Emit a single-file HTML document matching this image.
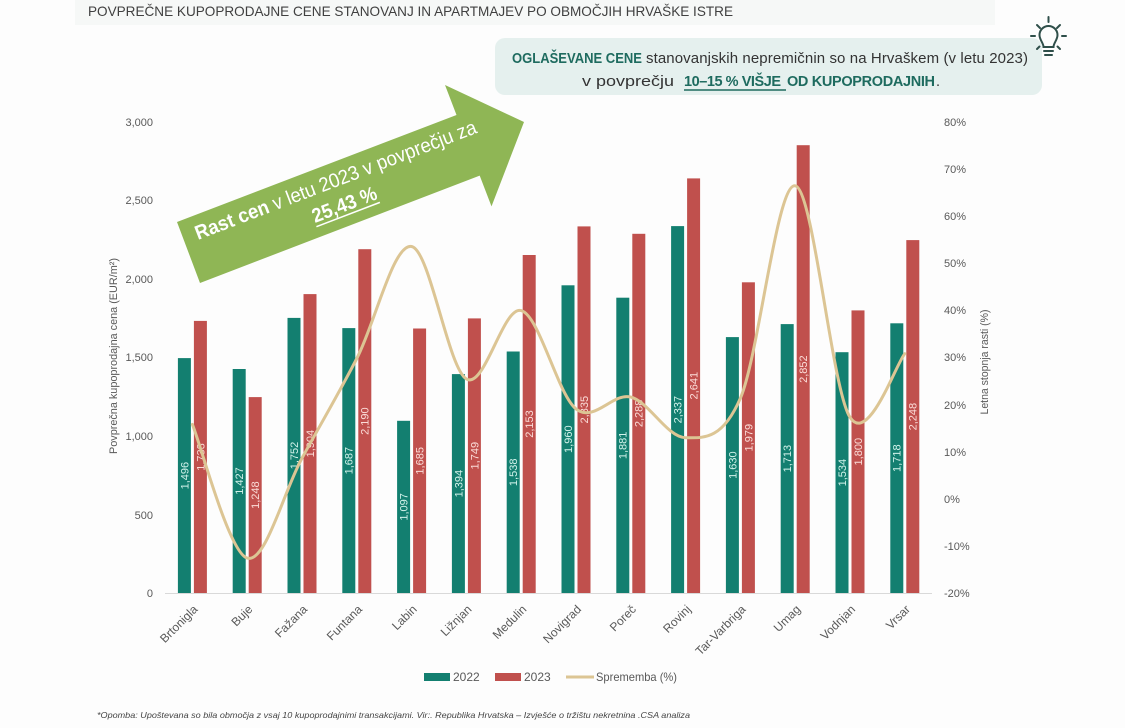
<!DOCTYPE html>
<html><head><meta charset="utf-8"><style>
html,body{margin:0;padding:0;background:#fdfdfd;}
svg{display:block;font-family:"Liberation Sans",sans-serif;}
</style></head><body>
<svg width="1125" height="728" viewBox="0 0 1125 728" xmlns="http://www.w3.org/2000/svg">
<rect x="0" y="0" width="1125" height="728" fill="#fdfdfd"/>
<rect x="75" y="0" width="920" height="25" fill="#f6f8f7"/>
<text x="88" y="16" font-size="14" fill="#404040" textLength="645" lengthAdjust="spacingAndGlyphs">POVPREČNE KUPOPRODAJNE CENE STANOVANJ IN APARTMAJEV PO OBMOČJIH HRVAŠKE ISTRE</text>

<!-- callout -->
<rect x="495" y="38" width="547" height="57" rx="10" fill="#e5f0ee"/>
<text x="512" y="63" font-size="14.5" font-weight="bold" fill="#1e6b5f" textLength="130" lengthAdjust="spacingAndGlyphs">OGLAŠEVANE CENE</text>
<text x="646" y="63" font-size="15" fill="#333" textLength="382" lengthAdjust="spacing">stanovanjskih nepremičnin so na Hrvaškem (v letu 2023)</text>
<text x="582" y="86" font-size="15" fill="#333" textLength="92" lengthAdjust="spacingAndGlyphs">v povprečju</text>
<text x="684" y="86" font-size="14.5" font-weight="bold" fill="#1e6b5f" textLength="97" lengthAdjust="spacing">10–15 % VIŠJE</text>
<text x="787" y="86" font-size="14.5" font-weight="bold" fill="#1e6b5f" textLength="148" lengthAdjust="spacing">OD KUPOPRODAJNIH</text>
<text x="936" y="86" font-size="14.5" fill="#333">.</text>
<line x1="684" y1="90" x2="786" y2="90" stroke="#1e6b5f" stroke-width="1.5"/>

<!-- bulb -->
<g stroke="#2f4f4a" stroke-width="2" fill="none" stroke-linecap="round">
<path d="M1043.5,47 C1043.5,43 1039.5,40 1039.5,35 A9,9 0 1 1 1057.5,35 C1057.5,40 1053.5,43 1053.5,47 Z"/>
<line x1="1044" y1="51" x2="1053" y2="51"/>
<line x1="1045" y1="55" x2="1052" y2="55"/>
<line x1="1048.5" y1="17" x2="1048.5" y2="22"/>
<line x1="1031" y1="36" x2="1035" y2="36"/>
<line x1="1062" y1="36" x2="1066" y2="36"/>
<line x1="1037" y1="25" x2="1040" y2="28"/>
<line x1="1060" y1="25" x2="1057" y2="28"/>
<line x1="1037" y1="49" x2="1039.5" y2="46.5"/>
<line x1="1060" y1="49" x2="1057.5" y2="46.5"/>
</g>

<!-- arrow -->
<polygon points="177,222 456.5,115 445,85 524,122 491.5,206.4 479.7,175.6 200,283" fill="#8fb655"/>
<g transform="translate(198,240) rotate(-21)">
<text x="0" y="0" font-size="20" fill="#ffffff" textLength="300" lengthAdjust="spacingAndGlyphs"><tspan font-weight="bold">Rast cen</tspan> v letu 2023 v povprečju za</text>
</g>
<g transform="translate(315,223) rotate(-21)">
<text x="0" y="0" font-size="20" font-weight="bold" fill="#ffffff" textLength="68" lengthAdjust="spacingAndGlyphs">25,43 %</text>
<line x1="0" y1="4" x2="68" y2="4" stroke="#ffffff" stroke-width="1.5"/>
</g>

<!-- axes labels left -->
<g font-size="11" fill="#595959" text-anchor="end">
<text x="153" y="597">0</text>
<text x="153" y="519">500</text>
<text x="153" y="440">1,000</text>
<text x="153" y="361">1,500</text>
<text x="153" y="283">2,000</text>
<text x="153" y="204">2,500</text>
<text x="153" y="126">3,000</text>
</g>
<g font-size="11" fill="#595959">
<text x="944" y="597">-20%</text>
<text x="944" y="550">-10%</text>
<text x="944" y="503">0%</text>
<text x="944" y="456">10%</text>
<text x="944" y="409">20%</text>
<text x="944" y="361">30%</text>
<text x="944" y="314">40%</text>
<text x="944" y="267">50%</text>
<text x="944" y="220">60%</text>
<text x="944" y="173">70%</text>
<text x="944" y="126">80%</text>
</g>
<text transform="translate(117,356) rotate(-90)" font-size="11" fill="#595959" text-anchor="middle" textLength="196" lengthAdjust="spacingAndGlyphs">Povprečna kupoprodajna cena (EUR/m²)</text>
<text transform="translate(988,362) rotate(-90)" font-size="11" fill="#595959" text-anchor="middle" textLength="105" lengthAdjust="spacingAndGlyphs">Letna stopnja rasti (%)</text>

<line x1="165" y1="593.5" x2="932" y2="593.5" stroke="#d9d9d9" stroke-width="1"/>

<!-- bars 2022 -->
<g fill="#137f70">
<rect x="177.9" y="358.1" width="13" height="234.9"/>
<rect x="232.7" y="369.0" width="13" height="224.0"/>
<rect x="287.5" y="317.9" width="13" height="275.1"/>
<rect x="342.3" y="328.1" width="13" height="264.9"/>
<rect x="397.1" y="420.8" width="13" height="172.2"/>
<rect x="451.9" y="374.1" width="13" height="218.9"/>
<rect x="506.7" y="351.5" width="13" height="241.5"/>
<rect x="561.5" y="285.3" width="13" height="307.7"/>
<rect x="616.3" y="297.7" width="13" height="295.3"/>
<rect x="671.1" y="226.1" width="13" height="366.9"/>
<rect x="725.9" y="337.1" width="13" height="255.9"/>
<rect x="780.7" y="324.1" width="13" height="268.9"/>
<rect x="835.5" y="352.2" width="13" height="240.8"/>
<rect x="890.3" y="323.3" width="13" height="269.7"/>
</g>
<!-- bars 2023 -->
<g fill="#c0504d">
<rect x="193.9" y="320.9" width="13" height="272.1"/>
<rect x="248.7" y="397.1" width="13" height="195.9"/>
<rect x="303.5" y="294.1" width="13" height="298.9"/>
<rect x="358.3" y="249.2" width="13" height="343.8"/>
<rect x="413.1" y="328.5" width="13" height="264.5"/>
<rect x="467.9" y="318.4" width="13" height="274.6"/>
<rect x="522.7" y="255.0" width="13" height="338.0"/>
<rect x="577.5" y="226.4" width="13" height="366.6"/>
<rect x="632.3" y="233.8" width="13" height="359.2"/>
<rect x="687.1" y="178.4" width="13" height="414.6"/>
<rect x="741.9" y="282.3" width="13" height="310.7"/>
<rect x="796.7" y="145.2" width="13" height="447.8"/>
<rect x="851.5" y="310.4" width="13" height="282.6"/>
<rect x="906.3" y="240.1" width="13" height="352.9"/>
</g>

<!-- data labels 2022 -->
<g font-size="11" fill="#d2f2ea" text-anchor="middle">
<text transform="translate(184.4,475.6) rotate(-90)" dy="0.35em">1,496</text>
<text transform="translate(239.2,481.0) rotate(-90)" dy="0.35em">1,427</text>
<text transform="translate(294.0,455.5) rotate(-90)" dy="0.35em">1,752</text>
<text transform="translate(348.8,460.6) rotate(-90)" dy="0.35em">1,687</text>
<text transform="translate(403.6,506.9) rotate(-90)" dy="0.35em">1,097</text>
<text transform="translate(458.4,483.6) rotate(-90)" dy="0.35em">1,394</text>
<text transform="translate(513.2,472.3) rotate(-90)" dy="0.35em">1,538</text>
<text transform="translate(568.0,439.2) rotate(-90)" dy="0.35em">1,960</text>
<text transform="translate(622.8,445.4) rotate(-90)" dy="0.35em">1,881</text>
<text transform="translate(677.6,409.6) rotate(-90)" dy="0.35em">2,337</text>
<text transform="translate(732.4,465.1) rotate(-90)" dy="0.35em">1,630</text>
<text transform="translate(787.2,458.6) rotate(-90)" dy="0.35em">1,713</text>
<text transform="translate(842.0,472.6) rotate(-90)" dy="0.35em">1,534</text>
<text transform="translate(896.8,458.2) rotate(-90)" dy="0.35em">1,718</text>
</g>
<!-- data labels 2023 -->
<g font-size="11" fill="#fbdcd8" text-anchor="middle">
<text transform="translate(200.4,457.0) rotate(-90)" dy="0.35em">1,733</text>
<text transform="translate(255.2,495.1) rotate(-90)" dy="0.35em">1,248</text>
<text transform="translate(310.0,443.6) rotate(-90)" dy="0.35em">1,904</text>
<text transform="translate(364.8,421.1) rotate(-90)" dy="0.35em">2,190</text>
<text transform="translate(419.6,460.8) rotate(-90)" dy="0.35em">1,685</text>
<text transform="translate(474.4,455.7) rotate(-90)" dy="0.35em">1,749</text>
<text transform="translate(529.2,424.0) rotate(-90)" dy="0.35em">2,153</text>
<text transform="translate(584.0,409.7) rotate(-90)" dy="0.35em">2,335</text>
<text transform="translate(638.8,413.4) rotate(-90)" dy="0.35em">2,288</text>
<text transform="translate(693.6,385.7) rotate(-90)" dy="0.35em">2,641</text>
<text transform="translate(748.4,437.7) rotate(-90)" dy="0.35em">1,979</text>
<text transform="translate(803.2,369.1) rotate(-90)" dy="0.35em">2,852</text>
<text transform="translate(858.0,451.7) rotate(-90)" dy="0.35em">1,800</text>
<text transform="translate(912.8,416.6) rotate(-90)" dy="0.35em">2,248</text>
</g>

<!-- line -->
<path d="M192.4,424.4 C201.5,446.7 228.9,552.5 247.2,558.1 C265.5,563.7 283.7,491.4 302,458.1 C320.3,424.8 338.5,393.8 356.8,358.5 C375.1,323.2 393.3,243.1 411.6,246.5 C429.9,249.9 448.1,368.3 466.4,379.0 C484.7,389.7 502.9,305.6 521.2,310.6 C539.5,315.6 557.7,394.5 576,408.9 C594.3,423.3 612.5,392.3 630.8,397.1 C649.1,401.9 667.3,437.5 685.6,437.7 C703.9,437.9 722.1,440.2 740.4,398.2 C758.7,356.2 776.9,182.6 795.2,185.8 C813.5,189.0 831.7,389.3 850,417.3 C868.3,445.3 895.7,364.3 904.8,353.7" fill="none" stroke="#dcc594" stroke-width="3" stroke-linecap="round"/>

<!-- x labels -->
<g font-size="12" fill="#595959" text-anchor="end">
<text transform="translate(198.4,610) rotate(-45)">Brtonigla</text>
<text transform="translate(253.2,610) rotate(-45)">Buje</text>
<text transform="translate(308.0,610) rotate(-45)">Fažana</text>
<text transform="translate(362.8,610) rotate(-45)">Funtana</text>
<text transform="translate(417.6,610) rotate(-45)">Labin</text>
<text transform="translate(472.4,610) rotate(-45)">Ližnjan</text>
<text transform="translate(527.2,610) rotate(-45)">Medulin</text>
<text transform="translate(582.0,610) rotate(-45)">Novigrad</text>
<text transform="translate(636.8,610) rotate(-45)">Poreč</text>
<text transform="translate(691.6,610) rotate(-45)">Rovinj</text>
<text transform="translate(746.4,610) rotate(-45)">Tar-Varbriga</text>
<text transform="translate(801.2,610) rotate(-45)">Umag</text>
<text transform="translate(856.0,610) rotate(-45)">Vodnjan</text>
<text transform="translate(910.8,610) rotate(-45)">Vrsar</text>
</g>

<!-- legend -->
<rect x="424" y="673" width="26" height="8" fill="#137f70"/>
<text x="453" y="681" font-size="12" fill="#595959">2022</text>
<rect x="495" y="673" width="26" height="8" fill="#c0504d"/>
<text x="524" y="681" font-size="12" fill="#595959">2023</text>
<line x1="566" y1="677" x2="594" y2="677" stroke="#dcc594" stroke-width="3"/>
<text x="596" y="681" font-size="12" fill="#595959" textLength="81" lengthAdjust="spacingAndGlyphs">Sprememba (%)</text>

<!-- footnote -->
<text x="97" y="718" font-size="8.5" font-style="italic" fill="#444" textLength="593" lengthAdjust="spacingAndGlyphs">*Opomba: Upoštevana so bila območja z vsaj 10 kupoprodajnimi transakcijami. Vir:. Republika Hrvatska – Izvješće o tržištu nekretnina .CSA analiza</text>
</svg>
</body></html>
